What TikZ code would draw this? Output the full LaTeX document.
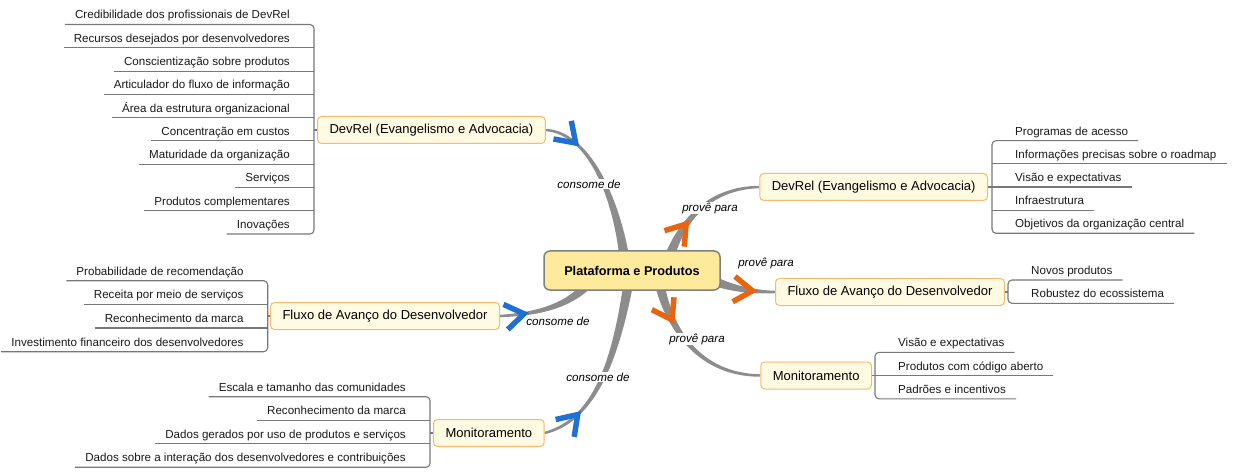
\documentclass[tikz,border=0pt]{standalone}
\usepackage{fontspec}
\setmainfont{Liberation Sans}
\usetikzlibrary{calc,decorations.markings}
\pgfdeclarelayer{bg}
\pgfsetlayers{bg,main}
\definecolor{brgray}{RGB}{140,140,140}
\definecolor{mmblue}{RGB}{30,112,212}
\definecolor{mmorange}{RGB}{232,100,14}
\definecolor{subfill}{RGB}{255,250,226}
\definecolor{subborder}{RGB}{244,186,112}
\definecolor{cfill}{RGB}{253,234,155}
\definecolor{cborder}{RGB}{128,128,128}
\definecolor{linegray}{RGB}{120,120,120}
\definecolor{txt}{RGB}{26,26,26}

\newcommand\chevfwd[1]{\fill[#1] (0pt,0pt) -- (-22pt,15pt) -- (-25pt,10.4pt) -- (-9.6pt,0pt) -- (-25pt,-10.4pt) -- (-22pt,-15pt) -- cycle;}
\newcommand\chevback[1]{\fill[#1] (0pt,0pt) -- (22pt,15pt) -- (25pt,10.4pt) -- (9.6pt,0pt) -- (25pt,-10.4pt) -- (22pt,-15pt) -- cycle;}

\newcommand\mmbranch[6]{%
  \fill[brgray] ($(#1)!4.8pt!90:(#2)$) .. controls ($(#2)!3.2pt!90:(#3)$) and ($(#3)!1.9pt!90:(#4)$) .. ($(#4)!1.2pt!-90:(#3)$)
     -- ($(#4)!1.2pt!90:(#3)$) .. controls ($(#3)!1.9pt!-90:(#4)$) and ($(#2)!3.2pt!-90:(#3)$) .. ($(#1)!4.8pt!-90:(#2)$) -- cycle;
  \path[decorate, decoration={markings, mark=at position #5 with {#6}}] (#1) .. controls (#2) and (#3) .. (#4);
}

\newcommand\leftlist[6]{%
  \coordinate (#1bar) at (#2,0);
  \foreach \t [count=\i] in {#6}{
    \node[litem, anchor=south east] (#1\i) at ({#2-14},{#3+#4*(\i-1)}) {\t};
    \ifnum\i>1 \ifnum\i<#5 \draw[lline] (#1\i.south west) -- (#1\i.south -| #1bar); \fi\fi
  }
  \draw[lline, rounded corners=4pt] (#11.south west) -- (#11.south -| #1bar) -- (#1#5.south -| #1bar) -- (#1#5.south west);
}
\newcommand\rightlist[6]{%
  \coordinate (#1bar) at (#2,0);
  \foreach \t [count=\i] in {#6}{
    \node[litem, anchor=south west] (#1\i) at ({#2+13},{#3+#4*(\i-1)}) {\t};
    \ifnum\i>1 \ifnum\i<#5 \draw[lline] (#1\i.south east) -- (#1\i.south -| #1bar); \fi\fi
  }
  \draw[lline, rounded corners=4pt] (#11.south east) -- (#11.south -| #1bar) -- (#1#5.south -| #1bar) -- (#1#5.south east);
}

\begin{document}
\begin{tikzpicture}[x=1pt,y=-1pt,
  litem/.style={font=\fontsize{11.6}{14}\selectfont, text=txt, inner xsep=10pt, inner ysep=0pt, text height=9pt, text depth=5.3pt},
  lline/.style={draw=linegray, line width=1.1pt},
  sub/.style={draw=subborder, fill=subfill, rounded corners=4pt, line width=1pt, font=\fontsize{13}{15}\selectfont, inner xsep=12pt, inner ysep=0pt, minimum height=27pt},
  central/.style={draw=cborder, fill=cfill, rounded corners=6pt, line width=1.5pt, font=\bfseries\fontsize{12.7}{15}\selectfont, minimum width=176pt, minimum height=39pt},
  lab/.style={fill=white, inner sep=0.8pt, font=\itshape\fontsize{11.6}{14}\selectfont}]
\useasboundingbox (0,0) rectangle (1240,473);

% central node
\node[central] (c) at (632,270.5) {Plataforma e Produtos};

% main topics
\node[sub, anchor=west] (dl) at (317,130) {DevRel (Evangelismo e Advocacia)};
\node[sub, anchor=west] (fl) at (270,316) {Fluxo de Avanço do Desenvolvedor};
\node[sub, anchor=west] (ml) at (433,433) {Monitoramento};
\node[sub, anchor=east] (dr) at (988,187) {DevRel (Evangelismo e Advocacia)};
\node[sub, anchor=east] (fr) at (1005,292) {Fluxo de Avanço do Desenvolvedor};
\node[sub, anchor=east] (mr) at (872,375.5) {Monitoramento};

% lists
\leftlist{lt}{314}{24.5}{23.28}{10}{Credibilidade dos profissionais de DevRel, Recursos desejados por desenvolvedores, Conscientização sobre produtos, Articulador do fluxo de informação, Área da estrutura organizacional, Concentração em custos, Maturidade da organização, Serviços, Produtos complementares, Inovações}
\draw[lline] (dl.west) -- (dl.west -| ltbar);

\leftlist{lm}{267.7}{280.7}{23.67}{4}{Probabilidade de recomendação, Receita por meio de serviços, Reconhecimento da marca, Investimento financeiro dos desenvolvedores}
\draw[lline] (fl.west) -- (fl.west -| lmbar);

\leftlist{lb}{430}{396.7}{23.53}{4}{Escala e tamanho das comunidades, Reconhecimento da marca, Dados gerados por uso de produtos e serviços, Dados sobre a interação dos desenvolvedores e contribuições}
\draw[lline] (ml.west) -- (ml.west -| lbbar);

\rightlist{rt}{992}{140.7}{23.15}{5}{Programas de acesso, Informações precisas sobre o roadmap, Visão e expectativas, Infraestrutura, Objetivos da organização central}
\draw[lline] (dr.east) -- (dr.east -| rtbar);

\rightlist{rm}{1008}{280}{23.3}{2}{Novos produtos, Robustez do ecossistema}
\draw[lline] (fr.east) -- (fr.east -| rmbar);

\rightlist{rb}{875}{352.3}{23.25}{3}{Visão e expectativas, Produtos com código aberto, Padrões e incentivos}
\draw[lline] (mr.east) -- (mr.east -| rbbar);

% branch start points
\coordinate (sLT) at ($(c.north)+(-8,5)$);
\coordinate (sLM) at ($(c.south west)+(46,-8)$);
\coordinate (sLB) at ($(c.south)+(-4,-5)$);
\coordinate (sRT) at ($(c.north)+(38,5)$);
\coordinate (sRM) at ($(c.east)+(-8,10)$);
\coordinate (sRB) at ($(c.south)+(28,-5)$);

\begin{pgfonlayer}{bg}
\fill[white] (0,0) rectangle (1240,473);
\mmbranch{sLT}{616,200}{590,133}{dl.east}{-38pt}{\chevback{mmblue}}
\mmbranch{sLM}{570,305}{540,314}{fl.east}{-29pt}{\chevback{mmblue}}
\mmbranch{sLB}{615,360}{595,420}{ml.east}{-43pt}{\chevback{mmblue}}
\mmbranch{sRT}{682,222}{708,188}{dr.west}{40pt}{\chevfwd{mmorange}}
\mmbranch{sRM}{735,290}{758,292}{fr.west}{46pt}{\chevfwd{mmorange}}
\mmbranch{sRB}{670,330}{700,375}{mr.west}{41pt}{\chevfwd{mmorange}}
\end{pgfonlayer}

% relationship labels
\node[lab] (lLT) at (589,184) {consome de};
\node[lab] (lLM) at (558,321) {consome de};
\node[lab] (lLB) at (598,377) {consome de};
\node[lab] (lRT) at (710,208) {provê para};
\node[lab] (lRM) at (766,263) {provê para};
\node[lab] (lRB) at (697,339) {provê para};
\end{tikzpicture}
\end{document}
